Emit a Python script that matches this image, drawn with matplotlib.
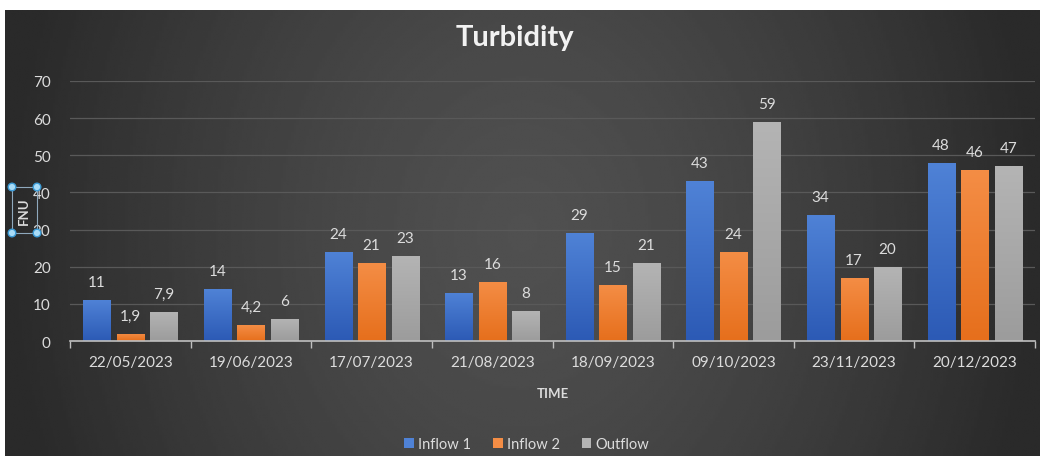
import matplotlib
matplotlib.use("Agg")
import matplotlib.pyplot as plt
import numpy as np
from matplotlib.patches import Rectangle, Circle

plt.rcParams['font.family'] = ['Lato', 'DejaVu Sans']

dates = ['22/05/2023', '19/06/2023', '17/07/2023', '21/08/2023',
         '18/09/2023', '09/10/2023', '23/11/2023', '20/12/2023']
inflow1 = [11, 14, 24, 13, 29, 43, 34, 48]
inflow2 = [1.9, 4.2, 21, 16, 15, 24, 17, 46]
outflow = [7.9, 6, 23, 8, 21, 59, 20, 47]
series_names = ['Inflow 1', 'Inflow 2', 'Outflow']

txt = '#dcdcdc'
colors = [('#4f82d6', '#2c5ab5'), ('#f48d45', '#e66f1c'), ('#b4b4b4', '#9c9c9c')]

W, H = 1040, 460
fig = plt.figure(figsize=(W / 100, H / 100), dpi=100)
fig.patch.set_facecolor('white')

# dark radial background
bg = fig.add_axes([5 / W, 3 / H, 1 - 5 / W, 1 - 14 / H], zorder=-10)
gx, gy = np.meshgrid(np.linspace(-1, 1, 400), np.linspace(-1, 1, 200))
d = np.sqrt(gx ** 2 + (gy * 0.35) ** 2)
shade = 0x50 - (0x50 - 0x2a) * np.clip(d, 0, 1) ** 1.4
bg.imshow(shade / 255.0, cmap='gray', vmin=0, vmax=1, aspect='auto',
          extent=[0, 1, 0, 1], interpolation='bilinear')
bg.set_axis_off()

ax = fig.add_axes([70 / W, 1 - 342 / H, 965 / W, 260 / H])
ax.set_facecolor('none')

x = np.arange(len(dates))
width = 0.224
step = 0.278
for i, (vals, (top, bot)) in enumerate(zip([inflow1, inflow2, outflow], colors)):
    bars = ax.bar(x + (i - 1) * step, vals, width, color=top, label=series_names[i], zorder=3)
    grad = np.linspace(0, 1, 100).reshape(-1, 1)
    cmap = matplotlib.colors.LinearSegmentedColormap.from_list('g%d' % i, [bot, top])
    for b, v in zip(bars, vals):
        bx, bw = b.get_x(), b.get_width()
        im = ax.imshow(grad, cmap=cmap, aspect='auto', origin='lower',
                       extent=[bx, bx + bw, 0, v], zorder=3.5)
        im.set_clip_path(b)
        lab = ('%g' % v).replace('.', ',')
        ax.annotate(lab, (bx + bw / 2, v), xytext=(0, 13), textcoords='offset points',
                    ha='center', va='center', color=txt, fontsize=11)

ax.set_xlim(-0.5, len(dates) - 0.5)
ax.set_ylim(0, 70)
ax.set_yticks(range(0, 71, 10))
ax.grid(axis='y', color='#595959', lw=0.9, zorder=0)
ax.set_xticks(np.arange(-0.5, len(dates)), labels=[])
ax.set_xticks(x, labels=dates, minor=True)
ax.tick_params(axis='x', which='major', length=5, color='#bfbfbf', width=1)
ax.tick_params(axis='x', which='minor', length=0, pad=10, labelcolor=txt, labelsize=11)
ax.tick_params(axis='y', length=0, pad=14, labelcolor=txt, labelsize=11)
for s in ['top', 'right', 'left']:
    ax.spines[s].set_visible(False)
ax.spines['bottom'].set_color('#bfbfbf')
ax.spines['bottom'].set_linewidth(1.2)
ax.spines['bottom'].set_zorder(4)

# overlay in pixel coordinates for title, axis labels and the selected-label box
ov = fig.add_axes([0, 0, 1, 1], zorder=5)
ov.set_xlim(0, W)
ov.set_ylim(H, 0)
ov.set_axis_off()
ov.patch.set_alpha(0)
ov.text(515, 38, 'Turbidity', ha='center', va='center', color='#f2f2f2',
        fontsize=21, fontweight='bold')
ov.text(553, 394, 'TIME', ha='center', va='center', color=txt, fontsize=9.5, fontweight='bold')
ov.text(24, 211, 'FNU', ha='center', va='center', color=txt, fontsize=9.5,
        fontweight='bold', rotation=90)
ov.add_patch(Rectangle((12, 188), 25, 46, fill=False, ec='#8fa9bd', lw=0.8))
for cx, cy in [(12, 188), (37, 188), (12, 234), (37, 234)]:
    ov.add_patch(Circle((cx, cy), 3.8, fc='#a9dcf7', ec='#3c9bd6', lw=1))

leg = fig.legend(*ax.get_legend_handles_labels(), loc='center', bbox_to_anchor=(527 / W, 15 / H),
                 ncol=3, frameon=False, fontsize=10.5, labelcolor=txt,
                 handlelength=0.65, handleheight=0.65, handletextpad=0.3, columnspacing=1.5)

fig.savefig('out.png', dpi=100)
